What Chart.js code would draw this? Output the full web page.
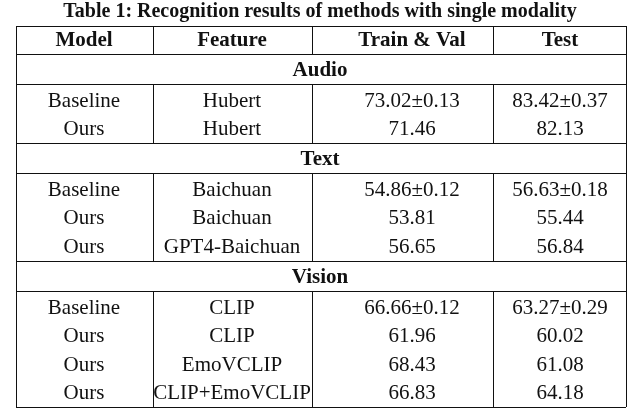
<!DOCTYPE html>
<html>
<head>
<meta charset="utf-8">
<script src="https://cdn.jsdelivr.net/npm/chart.js@4"></script>
<style>
  html, body { margin: 0; padding: 0; background: #fff; }
  #wrap { width: 640px; height: 414px; }
</style>
</head>
<body>
<div id="wrap"><canvas id="tableChart"></canvas></div>
<script>
const title = "Table 1: Recognition results of methods with single modality";
const headers = ["Model", "Feature", "Train & Val", "Test"];
const sections = ["Audio", "Text", "Vision"];
const models = [
  ["Baseline", "Ours"],
  ["Baseline", "Ours", "Ours"],
  ["Baseline", "Ours", "Ours", "Ours"]
];
const features = [
  ["Hubert", "Hubert"],
  ["Baichuan", "Baichuan", "GPT4-Baichuan"],
  ["CLIP", "CLIP", "EmoVCLIP", "CLIP+EmoVCLIP"]
];
const trainVal = [
  ["73.02±0.13", "71.46"],
  ["54.86±0.12", "53.81", "56.65"],
  ["66.66±0.12", "61.96", "68.43", "66.83"]
];
const test = [
  ["83.42±0.37", "82.13"],
  ["56.63±0.18", "55.44", "56.84"],
  ["63.27±0.29", "60.02", "61.08", "64.18"]
];

// table layout drawn on the chart canvas
const tablePlugin = {
  id: "tablePlugin",
  afterDraw(chart) {
    const ctx = chart.ctx;
    const left = 16, right = 626;
    const cols = [16, 153, 312, 493, 626];
    const centers = [84, 232, 412, 560];
    ctx.save();
    ctx.fillStyle = "#111";
    ctx.strokeStyle = "#111";
    ctx.lineWidth = 1;
    ctx.textAlign = "center";
    ctx.textBaseline = "middle";

    ctx.font = "bold 20px 'Liberation Serif', serif";
    ctx.fillText(title, 320, 12);

    const hline = (y) => {
      ctx.beginPath(); ctx.moveTo(left, y + 0.5); ctx.lineTo(right, y + 0.5); ctx.stroke();
    };
    const vlines = (y0, y1, all) => {
      (all ? cols : [left, right]).forEach((x) => {
        ctx.beginPath(); ctx.moveTo(x + 0.5, y0); ctx.lineTo(x + 0.5, y1); ctx.stroke();
      });
    };

    let y = 26;
    hline(y);
    ctx.font = "bold 21px 'Liberation Serif', serif";
    headers.forEach((h, i) => ctx.fillText(h, centers[i], y + 15));
    vlines(y, y + 28, true);
    y += 28;
    hline(y);

    sections.forEach((s, si) => {
      ctx.font = "bold 21px 'Liberation Serif', serif";
      ctx.fillText(s, 320, y + 17);
      vlines(y, y + 30, false);
      y += 30;
      hline(y);
      const y0 = y;
      ctx.font = "21px 'Liberation Serif', serif";
      models[si].forEach((m, ri) => {
        const cy = y + 17;
        [m, features[si][ri], trainVal[si][ri], test[si][ri]].forEach((t, ci) => {
          ctx.fillText(t, centers[ci], cy);
        });
        y += 28.5;
      });
      y = Math.round(y + 2);
      vlines(y0, y, true);
      hline(y);
    });
    ctx.restore();
  }
};

new Chart(document.getElementById("tableChart"), {
  type: "bar",
  data: { labels: [], datasets: [] },
  options: {
    responsive: true,
    maintainAspectRatio: false,
    animation: false,
    plugins: { legend: { display: false }, tooltip: { enabled: false } },
    scales: { x: { display: false }, y: { display: false } }
  },
  plugins: [tablePlugin]
});
</script>
</body>
</html>
